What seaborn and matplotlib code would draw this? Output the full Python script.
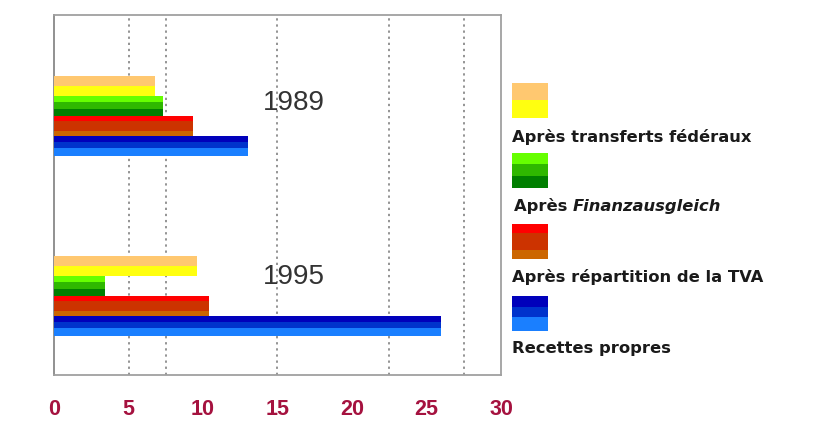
import numpy as np
import pandas as pd
import matplotlib
matplotlib.use('Agg')
import matplotlib.pyplot as plt
import seaborn as sns
from matplotlib.patches import Rectangle

# ---- data ----
years = ['1989', '1995']
series = ['Après transferts fédéraux', 'Après Finanzausgleich',
          'Après répartition de la TVA', 'Recettes propres']
transferts = [6.8, 9.6]
finanz = [7.3, 3.4]
tva = [9.3, 10.4]
recettes = [13.0, 26.0]
tick_values = [0, 5, 10, 15, 20, 25, 30]
tick_labels = ['0', '5', '10', '15', '20', '25', '30']
grid_values = [5, 7.5, 15, 22.5, 27.5]

sns.set_theme(style='white')
plt.rcParams['font.family'] = ['Liberation Sans', 'DejaVu Sans']

df = pd.DataFrame({
    'year': years * 4,
    'series': np.repeat(series, len(years)),
    'value': transferts + finanz + tva + recettes,
})

fig = plt.figure(figsize=(8.17, 4.32), dpi=100)
ax = fig.add_axes([0.0661, 0.1319, 0.5471, 0.8334])

base_colors = ['#FFE040', '#22AA00', '#DD2200', '#0044DD']
sns.barplot(data=df, x='value', y='year', hue='series', hue_order=series,
            order=years, orient='h', palette=base_colors, width=0.444,
            dodge=True, legend=False, ax=ax, saturation=1,
            edgecolor='none', linewidth=0)

bands = [
    [(0.5, '#FFC870'), (0.5, '#FFFF10')],
    [(0.3, '#66FF00'), (0.35, '#2FB800'), (0.35, '#007F00')],
    [(0.25, '#FF0000'), (0.5, '#CC3300'), (0.25, '#CC6600')],
    [(0.3, '#0000BB'), (0.3, '#0033CC'), (0.4, '#1A7FFF')],
]

for cont, spec in zip(ax.containers, bands):
    for bar in cont:
        x0, y0 = bar.get_x(), bar.get_y()
        w, h = bar.get_width(), bar.get_height()
        acc = 0.0
        for frac, col in spec:
            ax.add_patch(Rectangle((x0, y0 + acc * h), w, frac * h,
                                   facecolor=col, edgecolor='none', zorder=3))
            acc += frac

ax.set_xlim(0, 30)
ax.set_ylim(1.439, -0.561)
ax.set_xlabel('')
ax.set_ylabel('')
ax.set_yticks([])

ax.set_xticks(tick_values)
ax.set_xticklabels(tick_labels)
ax.tick_params(axis='x', which='major', length=0, pad=17, labelsize=15.5,
               labelcolor='#A5123F')
for lab in ax.get_xticklabels():
    lab.set_fontweight('bold')
ax.set_xticks([0] + grid_values + [30], minor=True)
ax.tick_params(axis='x', which='minor', length=5, color='#BBBBBB',
               direction='out', width=1)
ax.grid(False)
for g in grid_values:
    ax.axvline(g, color='#777777', linestyle=(0, (1.5, 2.5)), linewidth=1.1,
               zorder=1)

for side, sp in ax.spines.items():
    sp.set_visible(True)
    sp.set_color('#A0A0A0')
    sp.set_linewidth(1.3)
ax.spines['left'].set_color('#888888')

ax.text(16.1, -0.07, years[0], fontsize=20, ha='center', va='center',
        color='#333333', zorder=5)
ax.text(16.1, 0.894, years[1], fontsize=20, ha='center', va='center',
        color='#333333', zorder=5)

# ---- legend (manual) ----
W, H = 817.0, 432.0
sw_x, sw_w = 512, 36
sw_tops = [83, 153, 224, 296]
sw_h = 35
lab_y = [137, 206, 277, 348]
for top, spec in zip(sw_tops, bands):
    acc = 0.0
    for frac, col in spec:
        y_top = top + acc * sw_h
        hh = frac * sw_h
        fig.patches.append(Rectangle((sw_x / W, 1 - (y_top + hh) / H),
                                     sw_w / W, hh / H, facecolor=col,
                                     edgecolor='none',
                                     transform=fig.transFigure))
        acc += frac

txt_kw = dict(fontsize=11.8, fontweight='bold', va='center', ha='left',
              color='#1A1A1A', family=['DejaVu Sans'])
fig.text(sw_x / W, 1 - lab_y[0] / H, 'Après transferts fédéraux', **txt_kw)
t1 = fig.text((sw_x + 2) / W, 1 - lab_y[1] / H, 'Après ', **txt_kw)
fig.canvas.draw()
bb = t1.get_window_extent(renderer=fig.canvas.get_renderer())
fig.text(bb.x1 / W, 1 - lab_y[1] / H, 'Finanzausgleich', fontstyle='italic',
         **txt_kw)
fig.text(sw_x / W, 1 - lab_y[2] / H, 'Après répartition de la TVA', **txt_kw)
fig.text(sw_x / W, 1 - lab_y[3] / H, 'Recettes propres', **txt_kw)

fig.savefig('out.png', dpi=100)
